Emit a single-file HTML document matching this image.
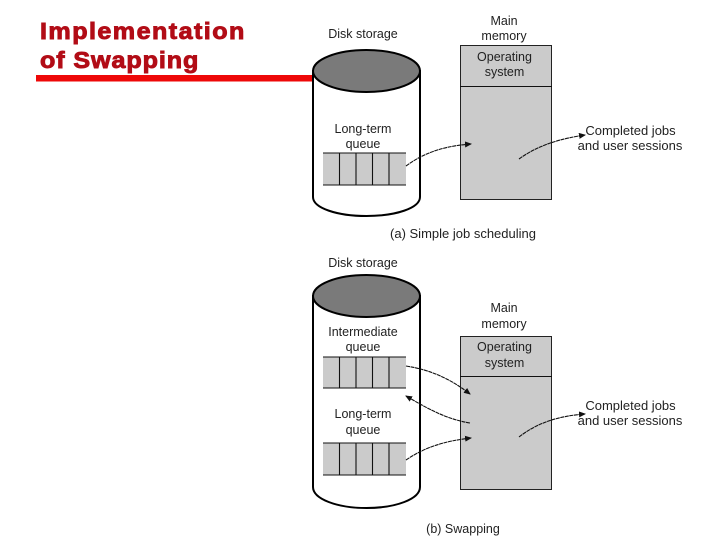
<!DOCTYPE html>
<html><head><meta charset="utf-8"><style>
html,body{margin:0;padding:0;background:#fff;width:720px;height:540px;overflow:hidden}
svg{display:block}
text{font-family:"Liberation Sans",sans-serif;font-size:12.5px;fill:#222;text-anchor:middle}
text.b{font-size:13px}
.t{font-size:23.5px;font-weight:bold;fill:#b20c16;stroke:#b20c16;stroke-width:.9;text-anchor:start}
.l{fill:none;stroke:#111;stroke-width:1.1}
.q{fill:#cbcbcb;stroke:none}
.m{fill:#cbcbcb;stroke:#222;stroke-width:1}
.c{fill:#fff;stroke:#000;stroke-width:2}
.e{fill:#7a7a7a;stroke:#000;stroke-width:2}
</style></head><body>
<svg width="720" height="540" viewBox="0 0 720 540" xmlns="http://www.w3.org/2000/svg">
<defs><marker id="a" markerWidth="7" markerHeight="6" refX="6" refY="3" orient="auto" markerUnits="userSpaceOnUse"><path d="M0 0L7 3L0 6Z" fill="#111"/></marker></defs>
<text class="t" transform="translate(40 39) scale(1.07 1)" textLength="191" lengthAdjust="spacing">Implementation</text>
<text class="t" transform="translate(40 68) scale(1.07 1)" textLength="148" lengthAdjust="spacing">of Swapping</text>
<rect x="36" y="75" width="278" height="6.500" fill="#ee0808"/>

<!-- a -->
<path class="c" d="M313 71V197C313 208 337 216 366.500 216C396 216 420 208 420 197V71Z"/>
<ellipse class="e" cx="366.500" cy="71" rx="53.500" ry="21"/>
<rect class="q" x="323" y="153" width="83" height="32"/>
<path class="l" d="M323 153H406M323 185H406M339.500 153V185M356 153V185M372.500 153V185M389 153V185"/>
<rect class="m" x="460.500" y="45.500" width="91" height="154"/>
<path class="l" d="M460 86.500H552"/>
<path class="l" stroke-dasharray="4 .6" marker-end="url(#a)" d="M406 166C425 152 445 146 471 144"/>
<path class="l" stroke-dasharray="4 .6" marker-end="url(#a)" d="M519 159C537 146 558 139 585 135"/>
<text x="504" y="25">Main</text><text x="504" y="40">memory</text>
<text x="363" y="38">Disk storage</text>
<text x="504.500" y="61">Operating</text><text x="504.500" y="76">system</text>
<text x="363" y="133">Long-term</text><text x="363" y="148">queue</text>
<text class="b" x="630.500" y="135">Completed jobs</text><text class="b" x="630" y="150">and user sessions</text>
<text class="b" x="463" y="238">(a) Simple job scheduling</text>

<!-- b -->
<path class="c" d="M313 296V487C313 499 337 508 366.500 508C396 508 420 499 420 487V296Z"/>
<ellipse class="e" cx="366.500" cy="296" rx="53.500" ry="21"/>
<rect class="q" x="323" y="357" width="83" height="31"/>
<rect class="q" x="323" y="443" width="83" height="32"/>
<path class="l" d="M323 357H406M323 388H406M339.500 357V388M356 357V388M372.500 357V388M389 357V388"/>
<path class="l" d="M323 443H406M323 475H406M339.500 443V475M356 443V475M372.500 443V475M389 443V475"/>
<rect class="m" x="460.500" y="336.500" width="91" height="153"/>
<path class="l" d="M460 376.500H552"/>
<path class="l" stroke-dasharray="4 .6" marker-end="url(#a)" d="M406 366C432 370 452 380 470 394"/>
<path class="l" stroke-dasharray="4 .6" marker-end="url(#a)" d="M470 423C445 419 425 407 406 396"/>
<path class="l" stroke-dasharray="4 .6" marker-end="url(#a)" d="M406 460C425 447 445 441 471 438"/>
<path class="l" stroke-dasharray="4 .6" marker-end="url(#a)" d="M519 437C537 423 558 416 585 414"/>
<text x="504" y="312">Main</text><text x="504" y="328">memory</text>
<text x="363" y="267">Disk storage</text>
<text x="504.500" y="351">Operating</text><text x="504.500" y="367">system</text>
<text x="363" y="336">Intermediate</text><text x="363" y="351">queue</text>
<text x="363" y="418">Long-term</text><text x="363" y="434">queue</text>
<text class="b" x="630.500" y="410">Completed jobs</text><text class="b" x="630" y="425">and user sessions</text>
<text x="463" y="533">(b) Swapping</text>
</svg>
</body></html>
